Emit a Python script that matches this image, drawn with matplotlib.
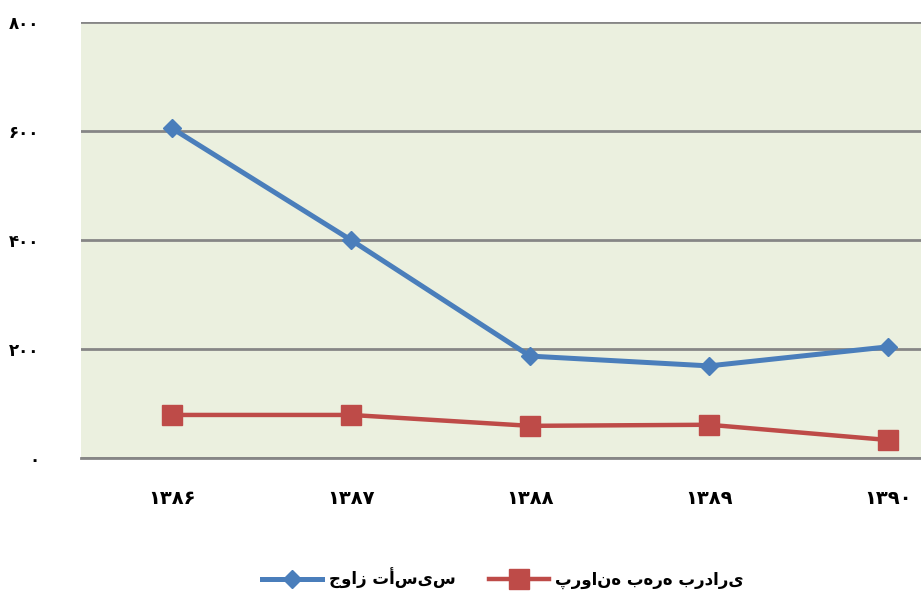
import matplotlib
matplotlib.use("Agg")
import matplotlib.pyplot as plt

plt.rcParams['font.family'] = ['DejaVu Sans']

years = ['۱۳۸۶', '۱۳۸۷', '۱۳۸۸', '۱۳۸۹', '۱۳۹۰']
javaz = [605, 400, 187, 169, 204]
parvaneh = [79, 79, 59, 61, 33]
yticks = [0, 200, 400, 600, 800]
ytick_labels = ['۰', '۲۰۰', '۴۰۰', '۶۰۰', '۸۰۰']
series_names = ['جواز تأسیس', 'پروانه بهره برداری']

fig = plt.figure(figsize=(9.21, 6.01), dpi=100)
ax = fig.add_axes([81/921, (601-458)/601, 1 - 81/921, (458-22)/601])
ax.set_facecolor('#EBF0DF')

x = list(range(len(years)))
ax.plot(x, javaz, color='#4A7EBB', lw=3.6, marker='D', ms=9.5, label=series_names[0], zorder=3)
ax.plot(x, parvaneh, color='#BE4B48', lw=3.2, marker='s', ms=14, label=series_names[1], zorder=3)

ax.set_ylim(0, 800)
ax.set_xlim(-0.508, 4.184)
ax.set_yticks(yticks)
ax.set_yticklabels(ytick_labels, fontsize=12, fontweight='bold')
ax.set_xticks(x)
ax.set_xticklabels(years, fontsize=14, fontweight='bold')
ax.tick_params(axis='y', length=0, pad=30)
ax.tick_params(axis='x', length=0, pad=22)
ax.grid(axis='y', color='#868686', lw=2)
ax.set_axisbelow(True)
for s in ['left', 'right', 'top']:
    ax.spines[s].set_visible(False)
ax.spines['bottom'].set_color('#868686')
ax.spines['bottom'].set_linewidth(2)

fig.legend(loc='center', bbox_to_anchor=(0.546, 0.038), ncol=2, frameon=False,
           handlelength=3.6, handletextpad=0.4, columnspacing=2.0,
           prop={'weight': 'bold', 'size': 12})

fig.savefig('out.png', dpi=100)
